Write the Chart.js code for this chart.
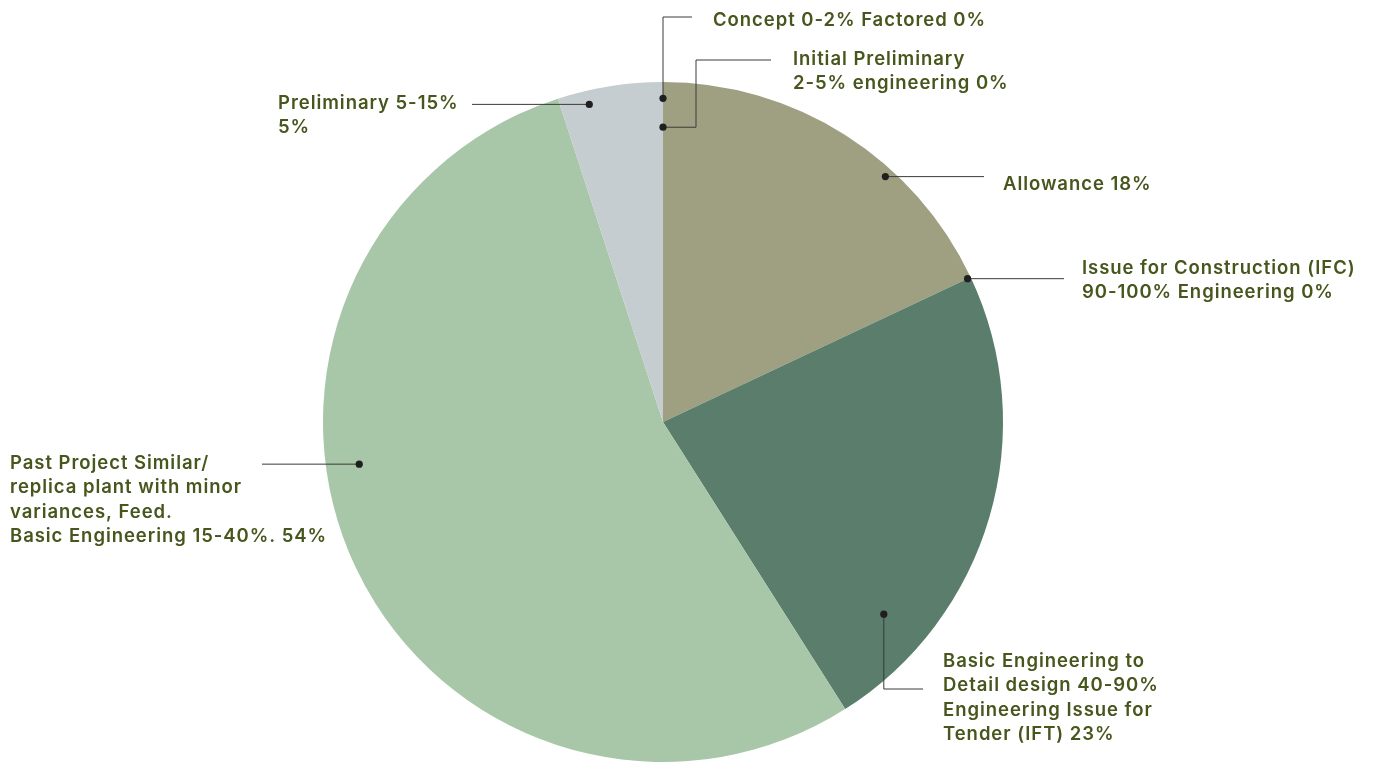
<!DOCTYPE html>
<html>
<head>
<meta charset="utf-8">
<title>Estimate class breakdown</title>
<script src="https://cdn.jsdelivr.net/npm/chart.js@4.4.1/dist/chart.umd.min.js"></script>
<style>
  html, body { margin: 0; padding: 0; background: #ffffff; }
  #wrap { position: relative; width: 1380px; height: 763px; }
</style>
</head>
<body>
<div id="wrap"><canvas id="classChart"></canvas></div>
<script>
  // slice names (value gets appended to the last line of each label)
  const categories = [
    ['Concept 0-2% Factored'],
    ['Initial Preliminary', '2-5% engineering'],
    ['Allowance'],
    ['Issue for Construction (IFC)', '90-100% Engineering'],
    ['Basic Engineering to', 'Detail design 40-90%', 'Engineering Issue for', 'Tender (IFT)'],
    ['Past Project Similar/', 'replica plant with minor', 'variances, Feed.', 'Basic Engineering 15-40%.'],
    ['Preliminary 5-15%', '']
  ];
  const shares = [0, 0, 18, 0, 23, 54, 5];
  const sliceColors = ['#9fa081', '#9fa081', '#9fa081', '#5a7d6c', '#5a7d6c', '#a8c7a8', '#c5cdd0'];

  // callout placement: t = position along the slice, r = fraction of radius,
  // legs = leader line moves, text = first baseline
  const callouts = [
    { t: 0, r: 0.952, legs: [{ y: 17 }, { x: 692 }], text: { x: 713, y: 26 } },
    { t: 0, r: 0.867, legs: [{ x: 696 }, { y: 60 }, { x: 771 }], text: { x: 793, y: 65 } },
    { t: 0.651, r: 0.974, legs: [{ x: 984 }], text: { x: 1003, y: 190 } },
    { t: 0, r: 0.99, legs: [{ x: 1064 }], text: { x: 1082, y: 274 } },
    { t: 0.80, r: 0.861, legs: [{ y: 689 }, { x: 923 }], text: { x: 943, y: 667 } },
    { t: 0.589, r: 0.902, legs: [{ x: 262 }], text: { x: 10, y: 469 } },
    { t: 0.274, r: 0.959, legs: [{ x: 472 }], text: { x: 278, y: 109 } }
  ];

  const lineHeight = 24.4;
  const textColor = '#46561c';

  function labelLines(i) {
    const lines = categories[i].slice();
    const last = lines.pop();
    lines.push((last ? last + ' ' : '') + shares[i] + '%');
    return lines;
  }

  const calloutPlugin = {
    id: 'callouts',
    afterDraw(chart) {
      const ctx = chart.ctx;
      const arcs = chart.getDatasetMeta(0).data;
      ctx.save();
      arcs.forEach((arc, i) => {
        const c = callouts[i];
        const p = arc.getProps(['x', 'y', 'startAngle', 'endAngle', 'outerRadius'], true);
        const a = p.startAngle + (p.endAngle - p.startAngle) * c.t;
        const dx = p.x + Math.cos(a) * p.outerRadius * c.r;
        const dy = p.y + Math.sin(a) * p.outerRadius * c.r;

        // leader line
        ctx.strokeStyle = '#3a3a3a';
        ctx.lineWidth = 1;
        ctx.beginPath();
        let cx = dx;
        let cy = dy;
        ctx.moveTo(cx, cy);
        c.legs.forEach((leg) => {
          if (leg.x !== undefined) cx = leg.x;
          if (leg.y !== undefined) cy = leg.y;
          ctx.lineTo(cx, cy);
        });
        ctx.stroke();

        // dot
        ctx.fillStyle = '#1f1f1f';
        ctx.beginPath();
        ctx.arc(dx, dy, 3.6, 0, Math.PI * 2);
        ctx.fill();

        // label
        ctx.fillStyle = textColor;
        ctx.font = '600 18.5px Inter, "Open Sans", sans-serif';
        ctx.letterSpacing = '0.95px';
        ctx.textAlign = 'left';
        ctx.textBaseline = 'alphabetic';
        labelLines(i).forEach((line, k) => {
          ctx.fillText(line, c.text.x, c.text.y + k * lineHeight);
        });
      });
      ctx.restore();
    }
  };

  new Chart(document.getElementById('classChart'), {
    type: 'pie',
    data: {
      labels: categories.map((c, i) => labelLines(i).join(' ')),
      datasets: [{
        data: shares,
        backgroundColor: sliceColors,
        borderWidth: 0,
        hoverOffset: 0
      }]
    },
    options: {
      responsive: true,
      maintainAspectRatio: false,
      animation: false,
      layout: { padding: { left: 323, right: 377, top: 82, bottom: 1 } },
      plugins: {
        legend: { display: false },
        tooltip: { enabled: false }
      }
    },
    plugins: [calloutPlugin]
  });
</script>
</body>
</html>
